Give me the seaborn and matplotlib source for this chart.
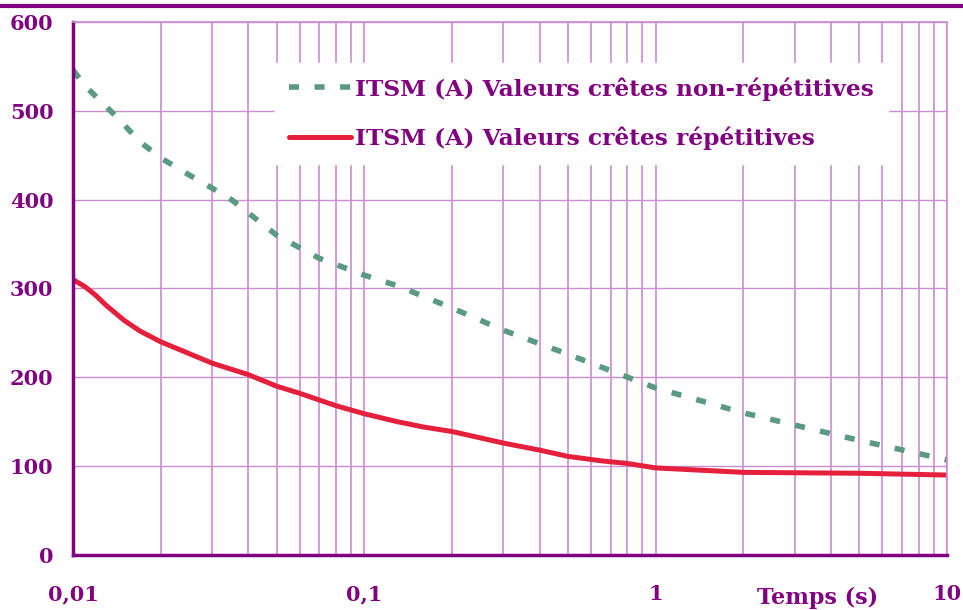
import numpy as np
import pandas as pd
import matplotlib
matplotlib.use("Agg")
import matplotlib.pyplot as plt
from matplotlib.lines import Line2D
from matplotlib.ticker import FixedLocator, LogLocator, NullFormatter
import seaborn as sns

# time (s) and peak current (A)
t_nonrep = [0.01, 0.011, 0.013, 0.015, 0.017, 0.02, 0.025, 0.03, 0.035, 0.05,
            0.07, 0.1, 0.13, 0.2, 0.3, 0.5, 1, 2, 5, 10]
i_nonrep = [546, 528, 505, 484, 465, 447, 428, 413, 400, 360,
            334, 315, 303, 278, 253, 226, 188, 160, 129, 107]
t_rep = [0.01, 0.011, 0.012, 0.013, 0.015, 0.017, 0.02, 0.03, 0.04, 0.05,
         0.06, 0.08, 0.1, 0.13, 0.16, 0.2, 0.3, 0.4, 0.5, 0.65, 0.8, 1,
         2, 5, 10]
i_rep = [310, 302, 292, 281, 264, 252, 240, 216, 203, 190,
         182, 168, 159, 150, 144, 139, 126, 118, 111, 106, 103, 98,
         93, 92, 90]
label_nonrep = "ITSM (A) Valeurs crêtes non-répétitives"
label_rep = "ITSM (A) Valeurs crêtes répétitives"
y_ticks = [0, 100, 200, 300, 400, 500, 600]
x_ticks = [0.01, 0.1, 1, 10]
x_labels = ["0,01", "0,1", "1", "10"]

PURPLE = "#800080"
GRID = "#c98ed0"
GREEN = "#5b9a82"
RED = "#e5203d"

sns.set_theme(style="white")
plt.rcParams["font.family"] = ["DejaVu Serif"]
plt.rcParams["font.weight"] = "bold"

df_nonrep = pd.DataFrame({"t": t_nonrep, "i": i_nonrep})
df_rep = pd.DataFrame({"t": t_rep, "i": i_rep})

fig = plt.figure(figsize=(9.63, 6.10), dpi=100)
ax = fig.add_axes([0.0758, 0.0902, 0.9076, 0.8737])

sns.lineplot(data=df_nonrep, x="t", y="i", ax=ax, color=GREEN, lw=4,
             label=label_nonrep)
ax.lines[-1].set_dashes([1.8, 2.8])
sns.lineplot(data=df_rep, x="t", y="i", ax=ax, color=RED, lw=3.6,
             label=label_rep)

ax.set_xscale("log")
ax.set_xlim(0.01, 10)
ax.set_ylim(0, 600)
ax.xaxis.set_major_locator(FixedLocator(x_ticks))
ax.set_xticklabels(x_labels)
ax.xaxis.set_minor_locator(LogLocator(base=10, subs=np.arange(2, 10)))
ax.xaxis.set_minor_formatter(NullFormatter())
ax.set_yticks(y_ticks)

ax.grid(True, which="both", axis="x", color=GRID, lw=1.2)
ax.grid(True, which="major", axis="y", color=GRID, lw=1.0)
ax.set_axisbelow(True)

for side in ["top", "right"]:
    ax.spines[side].set_color(GRID)
    ax.spines[side].set_linewidth(1.2)
for side in ["left", "bottom"]:
    ax.spines[side].set_color(PURPLE)
    ax.spines[side].set_linewidth(2.5)

ax.tick_params(axis="both", which="major", direction="out", length=7,
               width=2.5, color=PURPLE, labelcolor=PURPLE, labelsize=15)
ax.tick_params(axis="x", which="minor", length=0)
ax.tick_params(axis="x", pad=14)
ax.tick_params(axis="y", pad=7)
ax.set_xlabel("")
ax.set_ylabel("")
ax.text(0.852, -0.081, "Temps (s)", transform=ax.transAxes, ha="center",
        va="center", color=PURPLE, fontsize=16, fontweight="bold")

leg = ax.legend(loc="upper left", bbox_to_anchor=(0.231, 0.923),
                borderaxespad=0, frameon=True, fontsize=16.8,
                handlelength=2.65, handletextpad=0.2,
                labelspacing=1.1, borderpad=0.6)
leg.get_frame().set_facecolor("white")
leg.get_frame().set_edgecolor("white")
leg.get_frame().set_alpha(1)
leg.get_frame().set_boxstyle("square", pad=0)
for txt in leg.get_texts():
    txt.set_color(PURPLE)
    txt.set_fontweight("bold")

fig.add_artist(Line2D([0, 1], [0.99, 0.99], transform=fig.transFigure,
                      color=PURPLE, lw=3))

fig.savefig("out.png", dpi=100, facecolor="white")
